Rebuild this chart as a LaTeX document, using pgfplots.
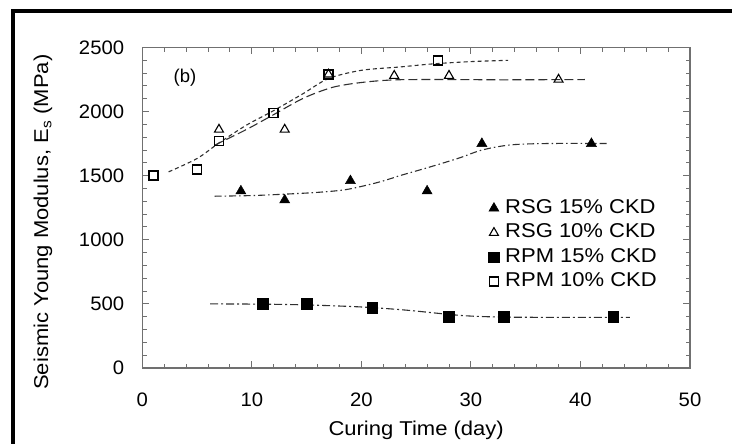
\documentclass[border=0pt]{standalone}
\usepackage{fontspec}
\setmainfont{Liberation Sans}
\newfontfamily\widefont[FakeStretch=1.1]{Liberation Sans}
\newfontfamily\tickfont[FakeStretch=1.04]{Liberation Sans}
\usepackage{pgfplots}
\pgfplotsset{compat=1.18}
\definecolor{axisgray}{HTML}{707070}
\definecolor{curve}{HTML}{303030}
\begin{document}
\begin{tikzpicture}
\useasboundingbox (-142.3bp,-76bp) rectangle (589.7bp,368bp);
\begin{axis}[
  at={(0,0)}, anchor=south west,
  scale only axis, width=547.7bp, height=320.5bp,
  xmin=0, xmax=50, ymin=0, ymax=2500,
  xtick={0,10,...,50}, ytick={0,500,...,2500},
  minor x tick num=4, minor y tick num=4,
  tick align=inside, major tick length=7bp, minor tick length=4.5bp,
  axis line style={draw=axisgray, line width=1.3bp},
  every tick/.style={draw=axisgray, line width=1bp},
  tick label style={font=\tickfont\fontsize{19.5bp}{23bp}\selectfont},
  /pgf/number format/assume math mode=true,
  /pgf/number format/1000 sep={},
  xticklabel style={anchor=center, inner sep=0pt, yshift=-32bp},
  yticklabel style={anchor=east, inner sep=0pt, xshift=-18bp},
  xlabel={Curing Time (day)},
  ylabel={Seismic Young Modulus, E\textsubscript{s} (MPa)},
  every axis x label/.style={at={(axis description cs:0.5,-0.195)}, anchor=center, font=\widefont\fontsize{20bp}{24bp}\selectfont},
  every axis y label/.style={at={(axis description cs:-0.1813,0.455)}, rotate=90, anchor=center, font=\widefont\fontsize{20bp}{24bp}\selectfont},
  legend image code/.code={\draw[#1] plot coordinates {(0bp,0bp)};},
  legend style={draw=none, fill=none, at={(axis cs:31.6,959)}, anchor=west,
    inner sep=0pt, row sep=6.5bp, font=\widefont\fontsize{20bp}{24bp}\selectfont,
    nodes={inner sep=0pt, text height=14bp, text depth=4bp},
    column sep=6bp},
  legend cell align=left,
]
% fitted curves
\addplot[forget plot, curve, line width=1.1bp, dash pattern=on 4bp off 3bp, smooth, tension=0.5] coordinates {
(2.4,1530) (5,1634) (7,1755) (9.5,1894) (12,2008) (14.7,2141) (17,2258) (20,2322) (23.5,2348) (26.5,2372) (30,2390) (33.4,2400)};
\addplot[forget plot, curve, line width=1.1bp, dash pattern=on 9bp off 4bp, smooth, tension=0.5] coordinates {
(6.6,1738) (9.5,1860) (11.9,1972) (14.7,2104) (17.4,2190) (20.2,2229) (23.2,2248) (28,2250) (33,2248) (40.4,2250)};
\addplot[forget plot, curve, line width=1.1bp, dash pattern=on 7bp off 3bp on 1.5bp off 3bp, smooth, tension=0.5] coordinates {
(6.6,1340) (10,1345) (13,1356) (16,1370) (18.7,1393) (21.7,1452) (23.5,1500) (26.3,1569) (29,1640) (31,1700) (33.6,1740) (37,1751) (42.4,1751)};
\addplot[forget plot, curve, line width=1.1bp, dash pattern=on 8bp off 3bp on 2bp off 3bp, smooth, tension=0.5] coordinates {
(6.2,500) (11,498) (15,492) (20,476) (24,452) (28,418) (30,405) (33,397) (38,395) (44.5,395)};
% data
\addplot[only marks, mark=triangle*, mark size=5.8bp, mark options={fill=black, draw=black, line width=0.5bp}] coordinates {
(9,1380) (13,1310) (19,1460) (26,1380) (31,1750) (41,1750)};
\addlegendentry{RSG 15\% CKD}
\addplot[only marks, mark=triangle, mark size=5.2bp, mark options={draw=black, line width=1.1bp}] coordinates {
(7,1860) (13,1860) (17,2290) (23,2280) (28,2280) (38,2250)};
\addlegendentry{RSG 10\% CKD}
\addplot[only marks, mark=square*, mark size=5.3bp, mark options={fill=black, draw=black, line width=0.5bp}] coordinates {
(11,500) (15,500) (21,470) (28,400) (33,400) (43,400)};
\addlegendentry{RPM 15\% CKD}
\addplot[only marks, mark=square, mark size=4.5bp, mark options={draw=black, line width=1.7bp}] coordinates {
(1,1500) (5,1550) (7,1770) (12,1990) (17,2290) (27,2400)};
\addlegendentry{RPM 10\% CKD}
\node[font=\fontsize{18.5bp}{22bp}\selectfont] at (axis cs:3.9,2262) {(b)};
\end{axis}
\draw[line width=4bp, line join=miter] (-129.3bp,-90bp) -- (-129.3bp,356.5bp) -- (600bp,356.5bp);
\end{tikzpicture}
\end{document}
